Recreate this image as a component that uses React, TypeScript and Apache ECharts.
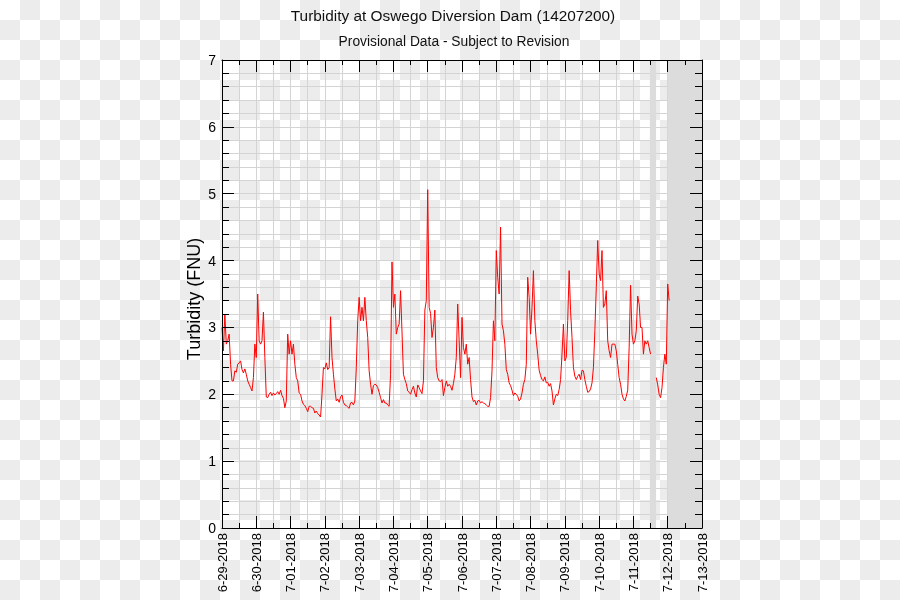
import React, { useEffect, useRef } from "react";
import * as echarts from "echarts";

const TITLE = "Turbidity at Oswego Diversion Dam (14207200)";
const SUBTITLE = "Provisional Data - Subject to Revision";
const Y_NAME = "Turbidity (FNU)";

// tick labels, one per day (x = days since 6-29-2018 00:00)
const dateLabels = [
  "6-29-2018", "6-30-2018", "7-01-2018", "7-02-2018", "7-03-2018",
  "7-04-2018", "7-05-2018", "7-06-2018", "7-07-2018", "7-08-2018",
  "7-09-2018", "7-10-2018", "7-11-2018", "7-12-2018", "7-13-2018",
];

// hourly turbidity (FNU), hour 0..23 of each day; null = no data
const d0629 = [3.0, 2.65, 3.2, 2.75, 2.8, 2.9, 2.45, 2.2, 2.2, 2.35, 2.33, 2.45, 2.47, 2.5, 2.37, 2.32, 2.38, 2.3, 2.2, 2.15, 2.1, 2.05, 2.25, 2.75];
const d0630 = [2.55, 3.5, 2.8, 2.75, 2.8, 3.23, 2.55, 1.96, 1.95, 2.0, 2.03, 1.98, 2.02, 1.99, 2.01, 2.04, 2.0, 2.06, 1.98, 1.94, 1.8, 1.9, 2.9, 2.6];
const d0701 = [2.8, 2.6, 2.75, 2.45, 2.25, 2.2, 2.02, 2.0, 1.9, 1.85, 1.83, 1.79, 1.74, 1.82, 1.82, 1.8, 1.79, 1.72, 1.75, 1.71, 1.69, 1.66, 2.0, 2.4];
const d0702 = [2.38, 2.47, 2.37, 2.4, 3.16, 2.55, 2.3, 2.08, 1.9, 1.93, 1.88, 1.96, 1.99, 1.88, 1.84, 1.83, 1.81, 1.79, 1.87, 1.88, 1.84, 1.9, 2.4, 3.1];
const d0703 = [3.45, 3.1, 3.3, 3.1, 3.45, 3.1, 2.85, 2.35, 2.15, 2.0, 2.13, 2.15, 2.14, 2.1, 2.03, 1.95, 1.87, 1.92, 1.87, 1.87, 1.84, 1.82, 2.3, 3.98];
const d0704 = [3.3, 3.5, 2.9, 3.0, 3.05, 3.55, 2.93, 2.3, 2.22, 2.16, 2.05, 2.03, 2.0, 2.07, 2.12, 2.02, 1.96, 2.14, 2.1, 2.05, 2.01, 2.2, 3.26, 3.4];
const d0705 = [5.06, 3.3, 3.21, 2.85, 3.0, 3.26, 2.4, 2.25, 2.2, 2.19, 2.22, 1.98, 2.1, 2.2, 2.12, 2.15, 2.12, 2.06, 2.16, 2.3, 2.55, 3.35, 2.8, 2.25];
const d0706 = [3.15, 2.7, 2.6, 2.75, 2.45, 2.55, 2.22, 1.96, 1.89, 1.91, 1.84, 1.9, 1.91, 1.87, 1.89, 1.87, 1.86, 1.84, 1.82, 1.82, 1.95, 2.35, 3.1, 2.8];
const d0707 = [4.15, 3.75, 3.5, 4.5, 3.05, 2.95, 2.75, 2.37, 2.3, 2.17, 2.13, 2.06, 1.98, 2.02, 2.0, 1.97, 1.9, 1.93, 2.02, 2.15, 2.22, 2.45, 3.75, 3.45];
const d0708 = [2.9, 3.3, 3.85, 3.1, 2.8, 2.6, 2.36, 2.28, 2.22, 2.2, 2.26, 2.17, 2.18, 2.12, 2.16, 2.05, 1.84, 1.93, 2.0, 1.98, 2.07, 2.22, 2.6, 3.05];
const d0709 = [2.5, 2.55, 3.1, 3.85, 3.25, 2.85, 2.4, 2.27, 2.22, 2.27, 2.3, 2.22, 2.36, 2.35, 2.22, 2.12, 2.03, 2.04, 2.08, 2.17, 2.4, 2.95, 3.6, 4.3];
const d0710 = [3.8, 3.7, 4.15, 3.3, 3.35, 3.55, 2.8, 2.65, 2.55, 2.75, 2.75, 2.75, 2.65, 2.45, 2.25, 2.15, 2.0, 1.93, 1.9, 1.97, 2.06, 2.7, 3.63, 2.9];
const d0711 = [2.75, 2.8, 2.95, 3.47, 3.35, 3.0, 3.0, 2.6, 2.8, 2.75, 2.8, 2.7, 2.6, null, null, null, 2.25, 2.14, 2.0, 1.95, 2.1, 2.4, 2.6, 2.45];
const d0712 = [3.65, 3.4];

const days: (number | null)[][] = [d0629, d0630, d0701, d0702, d0703, d0704, d0705, d0706, d0707, d0708, d0709, d0710, d0711, d0712];

// shaded (no data / future) spans, in days since 6-29
const bandStarts = [12.48, 13.0];
const bandEnds = [12.66, 14.0];

const FONT = "'Liberation Sans', Arial, Helvetica, sans-serif";

export default function App() {
  const ref = useRef<HTMLDivElement>(null);

  useEffect(() => {
    if (!ref.current) return;
    const chart = echarts.init(ref.current, null, { renderer: "svg" });

    const data: (number | string)[][] = [];
    days.forEach((arr, d) =>
      arr.forEach((v, h) => data.push([d + h / 24, v === null ? "-" : v]))
    );

    const gridColor = "#d4d4d4";
    const black = "#000";

    const xBase = { type: "value", min: 0, max: 14, interval: 1, gridIndex: 0 };
    const yBase = { type: "value", min: 0, max: 7, interval: 1, gridIndex: 0 };

    const option: any = {
      animation: false,
      backgroundColor: "transparent",
      textStyle: { fontFamily: FONT },
      grid: { left: 222, top: 60, width: 480, height: 468, containLabel: false },
      graphic: [
        {
          type: "text",
          x: 453,
          y: 15,
          style: { text: TITLE, font: `15.4px ${FONT}`, fill: "#111", textAlign: "center", textVerticalAlign: "middle" },
        },
        {
          type: "text",
          x: 454,
          y: 41,
          style: { text: SUBTITLE, font: `13.8px ${FONT}`, fill: "#111", textAlign: "center", textVerticalAlign: "middle" },
        },
        {
          type: "text",
          x: 194,
          y: 299,
          rotation: Math.PI / 2,
          style: { text: Y_NAME, font: `18px ${FONT}`, fill: "#000", textAlign: "center", textVerticalAlign: "middle" },
        },
      ],
      xAxis: [
        {
          ...xBase,
          position: "bottom",
          z: 0,
          axisLine: { show: false },
          axisTick: { show: false },
          axisLabel: { show: false },
          minorTick: { show: false, splitNumber: 2 },
          splitLine: { show: true, lineStyle: { color: gridColor, width: 1 } },
          minorSplitLine: { show: true, lineStyle: { color: gridColor, width: 1 } },
        },
        {
          ...xBase,
          position: "bottom",
          z: 5,
          axisLine: { show: true, onZero: false, lineStyle: { color: black, width: 1 } },
          axisTick: { show: true, inside: true, length: 12, lineStyle: { color: black } },
          minorTick: { show: true, splitNumber: 2, length: 5, lineStyle: { color: black } },
          splitLine: { show: false },
          axisLabel: {
            show: true,
            rotate: 90,
            margin: 5,
            fontSize: 13,
            color: black,
            fontFamily: FONT,
            showMinLabel: true,
            showMaxLabel: true,
            formatter: (v: number) => dateLabels[Math.round(v)] ?? "",
          },
        },
        {
          ...xBase,
          position: "top",
          z: 5,
          axisLine: { show: true, onZero: false, lineStyle: { color: black, width: 1 } },
          axisTick: { show: true, inside: true, length: 12, lineStyle: { color: black } },
          minorTick: { show: true, splitNumber: 2, length: 5, lineStyle: { color: black } },
          splitLine: { show: false },
          axisLabel: { show: false },
        },
      ],
      yAxis: [
        {
          ...yBase,
          position: "left",
          z: 0,
          axisLine: { show: false },
          axisTick: { show: false },
          axisLabel: { show: false },
          minorTick: { show: false, splitNumber: 5 },
          splitLine: { show: true, lineStyle: { color: gridColor, width: 1 } },
          minorSplitLine: { show: true, lineStyle: { color: gridColor, width: 1 } },
        },
        {
          ...yBase,
          position: "left",
          z: 5,
          axisLine: { show: true, onZero: false, lineStyle: { color: black, width: 1 } },
          axisTick: { show: true, inside: true, length: 12, lineStyle: { color: black } },
          minorTick: { show: true, splitNumber: 5, length: 7, lineStyle: { color: black } },
          splitLine: { show: false },
          axisLabel: { show: true, margin: 6, fontSize: 14, color: black, fontFamily: FONT, showMinLabel: true, showMaxLabel: true },
        },
        {
          ...yBase,
          position: "right",
          z: 5,
          axisLine: { show: true, onZero: false, lineStyle: { color: black, width: 1 } },
          axisTick: { show: true, inside: true, length: 12, lineStyle: { color: black } },
          minorTick: { show: true, splitNumber: 5, length: 7, lineStyle: { color: black } },
          splitLine: { show: false },
          axisLabel: { show: false },
        },
      ],
      series: [
        {
          type: "line",
          xAxisIndex: 0,
          yAxisIndex: 0,
          data,
          showSymbol: false,
          symbol: "none",
          connectNulls: false,
          lineStyle: { color: "#ff0000", width: 1 },
          z: 2,
          markArea: {
            silent: true,
            itemStyle: { color: "#dcdcdc", opacity: 1 },
            data: bandStarts.map((s, i) => [{ xAxis: s }, { xAxis: bandEnds[i] }]),
          },
        },
      ],
    };

    chart.setOption(option);
    return () => chart.dispose();
  }, []);

  return (
    <div
      ref={ref}
      style={{
        position: "fixed",
        left: 0,
        top: 0,
        width: 900,
        height: 600,
        background: "repeating-conic-gradient(#ececec 0% 25%, #ffffff 0% 50%) 0 0 / 40px 40px",
      }}
    />
  );
}
